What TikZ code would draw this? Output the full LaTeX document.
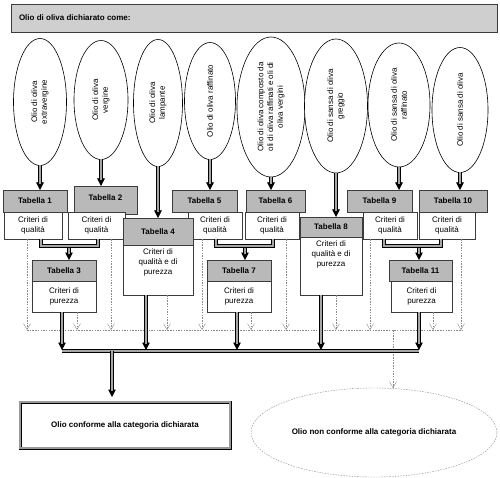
\documentclass[tikz,border=0pt]{standalone}
\usepackage{fontspec}
\setmainfont{Liberation Sans}
\usetikzlibrary{arrows.meta,shapes.geometric}
\definecolor{hdrgray}{HTML}{B9B9B9}
\definecolor{topgray}{HTML}{CFCFCF}
\definecolor{edge}{HTML}{3C3C3C}
\definecolor{dashgray}{HTML}{8A8A8A}
\begin{document}
\begin{tikzpicture}[x=1pt,y=-1pt,
  font=\fontsize{8}{9.8}\selectfont,
  every node/.style={inner sep=0pt, outer sep=0pt},
  oval/.style={ellipse, draw=black, line width=0.6pt, fill=white},
  etext/.style={rotate=90, align=center, font=\fontsize{8}{9.8}\selectfont},
  thead/.style={rectangle, draw=edge, line width=0.9pt, fill=hdrgray, font=\fontsize{8}{9.8}\selectfont\bfseries},
  tbody/.style={rectangle, draw=edge, line width=0.7pt, fill=white, align=center},
  btext/.style={align=center, inner sep=4pt, font=\fontsize{8}{9.8}\selectfont},
  dbl/.style={draw=black, line width=0.8pt, double=black!35, double distance=1.5pt},
  shaft/.style={dbl, shorten >=6pt},
  tip/.style={draw=black, line width=0.5pt, -{Triangle[width=7.5pt,length=7.5pt]}},
  dsh/.style={draw=dashgray, line width=0.4pt, dash pattern=on 1.5pt off 1.2pt},
  dropv/.style={dsh, -{Straight Barb[width=7pt,length=6pt]}}
]
\useasboundingbox (0,0) rectangle (500,478);

% header
\node[rectangle, draw=edge, line width=0.8pt, fill=topgray, minimum width=486pt, minimum height=28pt] (hdr) at (254,18) {};
\node[anchor=west, font=\fontsize{8}{9.8}\selectfont\bfseries] (hdrtext) at (19,18) {Olio di oliva dichiarato come:};

% ellipses
\node[oval, minimum width=53pt, minimum height=127pt, label={[etext]center:{Olio di oliva\\extravergine}}] (e1) at (40,102) {};
\node[oval, minimum width=54pt, minimum height=119pt, label={[etext]center:{Olio di oliva\\vergine}}] (e2) at (101,100) {};
\node[oval, minimum width=49pt, minimum height=127pt, label={[etext]center:{Olio di oliva\\lampante}}] (e3) at (158,103) {};
\node[oval, minimum width=51pt, minimum height=117pt, label={[etext]center:{Olio di oliva raffinato}}] (e4) at (210,101) {};
\node[oval, minimum width=68pt, minimum height=140pt, label={[etext]center:{Olio di oliva composto da\\oli di oliva raffinati e oli di\\oliva vergini}}] (e5) at (271,107) {};
\node[oval, minimum width=63pt, minimum height=134pt, label={[etext]center:{Olio di sansa di oliva\\greggio}}] (e6) at (336,106) {};
\node[oval, minimum width=62pt, minimum height=124pt, label={[etext]center:{Olio di sansa di oliva\\raffinato}}] (e7) at (399,105) {};
\node[oval, minimum width=56pt, minimum height=125pt, label={[etext]center:{Olio di sansa di oliva}}] (e8) at (460,110) {};

% tables
\node[thead, minimum width=63pt, minimum height=28pt] (t2h) at (105.5,200) {\raisebox{4pt}{Tabella 2}};
\node[tbody, minimum width=57pt, minimum height=27pt] (t2b) at (96.5,225.5) {Criteri di\\qualità};
\node[thead, minimum width=64pt, minimum height=22pt] (t1h) at (35,201) {Tabella 1};
\node[tbody, minimum width=58pt, minimum height=27pt] (t1b) at (33,225.5) {Criteri di\\qualità};

\node[thead, minimum width=64pt, minimum height=21pt] (t3h) at (64,270.5) {Tabella 3};
\node[tbody, minimum width=64pt, minimum height=31pt] (t3b) at (64,296.5) {Criteri di\\purezza};

\node[thead, minimum width=65pt, minimum height=22pt] (t5h) at (204.5,201) {Tabella 5};
\node[tbody, minimum width=54pt, minimum height=27pt] (t5b) at (215,225.5) {Criteri di\\qualità};

\node[thead, minimum width=70pt, minimum height=27pt] (t4h) at (158,231.5) {Tabella 4};
\node[tbody, minimum width=70pt, minimum height=50pt, label={[btext,anchor=north]north:{Criteri di\\qualità e di\\purezza}}] (t4b) at (158,270) {};

\node[thead, minimum width=59pt, minimum height=22pt] (t6h) at (275.5,201) {Tabella 6};
\node[tbody, minimum width=54pt, minimum height=27pt] (t6b) at (272,225.5) {Criteri di\\qualità};

\node[thead, minimum width=64pt, minimum height=21pt] (t7h) at (239,270.5) {Tabella 7};
\node[tbody, minimum width=64pt, minimum height=31pt] (t7b) at (239,296.5) {Criteri di\\purezza};

\node[thead, minimum width=62pt, minimum height=20pt] (t8h) at (331,227) {Tabella 8};
\node[tbody, minimum width=62pt, minimum height=58pt, label={[btext,anchor=north]north:{Criteri di\\qualità e di\\purezza}}] (t8b) at (331,266) {};

\node[thead, minimum width=65pt, minimum height=22pt] (t9h) at (379.5,201) {Tabella 9};
\node[tbody, minimum width=54pt, minimum height=27pt] (t9b) at (390,225.5) {Criteri di\\qualità};

\node[thead, minimum width=68pt, minimum height=22pt] (t10h) at (453,201) {Tabella 10};
\node[tbody, minimum width=56pt, minimum height=27pt] (t10b) at (447,225.5) {Criteri di\\qualità};

\node[thead, minimum width=63pt, minimum height=21pt] (t11h) at (420.5,270.5) {Tabella 11};
\node[tbody, minimum width=61pt, minimum height=31pt] (t11b) at (421.5,296.5) {Criteri di\\purezza};

% result nodes
\node[rectangle, draw=black, line width=0.7pt, double=black!40, double distance=1.6pt, fill=white, minimum width=210pt, minimum height=46pt, font=\fontsize{8}{9.8}\selectfont\bfseries] (ok) at (125,425) {Olio conforme alla categoria dichiarata};
\node[ellipse, dsh, minimum width=246pt, minimum height=89pt, font=\fontsize{8}{9.8}\selectfont\bfseries] (nok) at (374,432.5) {Olio non conforme alla categoria dichiarata};

% ellipse -> tables (tip drawn first, shaft on top)
\draw[tip] (e1.south) -- (e1.south |- t1h.north);   \draw[shaft] (e1.south) -- (e1.south |- t1h.north);
\draw[tip] (e2.south) -- (e2.south |- t2h.north);   \draw[shaft] (e2.south) -- (e2.south |- t2h.north);
\draw[tip] (e3.south) -- (e3.south |- t4h.north);   \draw[shaft] (e3.south) -- (e3.south |- t4h.north);
\draw[tip] (e4.south) -- (e4.south |- t5h.north);   \draw[shaft] (e4.south) -- (e4.south |- t5h.north);
\draw[tip] (e5.south) -- (e5.south |- t6h.north);   \draw[shaft] (e5.south) -- (e5.south |- t6h.north);
\draw[tip] (e6.south) -- (e6.south |- t8h.north);   \draw[shaft] (e6.south) -- (e6.south |- t8h.north);
\draw[tip] (e7.south) -- (e7.south |- t9h.north);   \draw[shaft] (e7.south) -- (e7.south |- t9h.north);
\draw[tip] (e8.south) -- (e8.south |- t10h.north);  \draw[shaft] (e8.south) -- (e8.south |- t10h.north);

% quality -> purity
\coordinate (j1) at (41,246); \coordinate (j2) at (98,246); \coordinate (j3) at (69,246);
\draw[tip] (j3) -- (t3h.north -| j3); \draw[shaft] (j3) -- (t3h.north -| j3);
\draw[dbl] (t1b.south -| j1) -- (j1) -- (j2) -- (t2b.south -| j2);
\coordinate (k1) at (216,246); \coordinate (k2) at (273,246); \coordinate (k3) at (245,246);
\draw[tip] (k3) -- (t7h.north -| k3); \draw[shaft] (k3) -- (t7h.north -| k3);
\draw[dbl] (t5b.south -| k1) -- (k1) -- (k2) -- (t6b.south -| k2);
\coordinate (m1) at (384,246); \coordinate (m2) at (441,246); \coordinate (m3) at (419,246);
\draw[tip] (m3) -- (t11h.north -| m3); \draw[shaft] (m3) -- (t11h.north -| m3);
\draw[dbl] (t9b.south -| m1) -- (m1) -- (m2) -- (t10b.south -| m2);

% dashed (non conforme) drops
\coordinate (dl) at (27,330); \coordinate (dr) at (463,330);
\draw[dsh] (dl) -- (dr);
\coordinate (v1) at (27,330); \coordinate (v2) at (77,330); \coordinate (v3) at (111,330);
\coordinate (v4) at (167,330); \coordinate (v5) at (202,330); \coordinate (v6) at (251,330);
\coordinate (v7) at (286,330); \coordinate (v8) at (336,330); \coordinate (v9) at (370,330);
\coordinate (v10) at (433,330); \coordinate (v11) at (461,330);
\draw[dropv] (t1b.south -| v1) -- (v1);
\draw[dropv] (t3b.south -| v2) -- (v2);
\draw[dropv] (t2b.south -| v3) -- (v3);
\draw[dropv] (t4b.south -| v4) -- (v4);
\draw[dropv] (t5b.south -| v5) -- (v5);
\draw[dropv] (t7b.south -| v6) -- (v6);
\draw[dropv] (t6b.south -| v7) -- (v7);
\draw[dropv] (t8b.south -| v8) -- (v8);
\draw[dropv] (t9b.south -| v9) -- (v9);
\draw[dropv] (t11b.south -| v10) -- (v10);
\draw[dropv] (t10b.south -| v11) -- (v11);
\coordinate (nq) at (393,330);
\draw[dropv] (nq) -- (nq |- nok.north);

% solid (conforme) collection
\coordinate (s1) at (62,351); \coordinate (s2) at (146,351); \coordinate (s3) at (237,351);
\coordinate (s4) at (321,351); \coordinate (s5) at (419,351); \coordinate (so) at (112,351);
\draw[tip, shorten >=1pt] (t3b.south -| s1) -- (s1);  \draw[shaft, shorten >=7pt] (t3b.south -| s1) -- (s1);
\draw[tip, shorten >=1pt] (t4b.south -| s2) -- (s2);  \draw[shaft, shorten >=7pt] (t4b.south -| s2) -- (s2);
\draw[tip, shorten >=1pt] (t7b.south -| s3) -- (s3);  \draw[shaft, shorten >=7pt] (t7b.south -| s3) -- (s3);
\draw[tip, shorten >=1pt] (t8b.south -| s4) -- (s4);  \draw[shaft, shorten >=7pt] (t8b.south -| s4) -- (s4);
\draw[tip, shorten >=1pt] (t11b.south -| s5) -- (s5); \draw[shaft, shorten >=7pt] (t11b.south -| s5) -- (s5);
\draw[dbl] (s1) -- (s5);
\draw[tip, shorten >=5pt] (so) -- (so |- ok.north); \draw[shaft, shorten >=11pt] (so) -- (so |- ok.north);
\end{tikzpicture}
\end{document}
